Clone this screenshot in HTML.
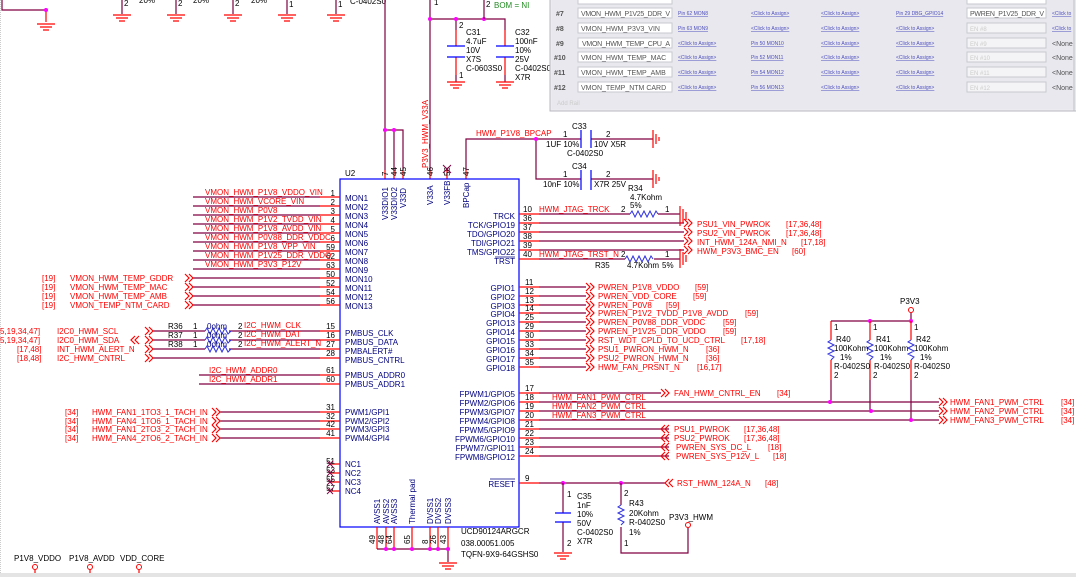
<!DOCTYPE html>
<html><head><meta charset="utf-8"><style>
html,body{margin:0;padding:0;background:#fff;}
svg{display:block;font-family:"Liberation Sans",Arial,sans-serif;}
.w{stroke:#800040;stroke-width:1.2;fill:none}
.p{stroke:#ff0000;stroke-width:1.2;fill:none}
.b{stroke:#0000ff;stroke-width:1.2;fill:none}
.z{stroke:#3030e0;stroke-width:1;fill:none}
.g{stroke:#ff0000;stroke-width:1.2;fill:none}
.l{fill:#ff0000;font-size:8px}
.n{fill:#000080;font-size:8px}
.k{fill:#000;font-size:8px}
.lk{fill:#5050c0;font-size:5px;text-decoration:underline}
.tb{fill:#555;font-size:7px}
</style></head><body>
<svg width="1076" height="577" viewBox="0 0 1076 577" xmlns="http://www.w3.org/2000/svg">
<defs>
<g id="gnd"><path d="M-9,0H9M-6,3H6M-3,6H3" class="g"/></g>
<g id="chr"><path d="M0,-4L4,0L0,4M4,-4L8,0L4,4" class="p" stroke-width="0.9"/></g>
<g id="chl"><path d="M8,-4L4,0L8,4M4,-4L0,0L4,4" class="p" stroke-width="0.9"/></g>
</defs>
<line x1="0.5" y1="0" x2="0.5" y2="577" stroke="#ccc" stroke-dasharray="1,1"/>
<path d="M2,0V10H46" class="w"/><path d="M46,10V22" class="p"/><circle cx="46" cy="10" r="2" fill="#f0f"/>
<use href="#gnd" x="46" y="24"/>
<g>
<path d="M122,0V14M176,0V14M233,0V14M287,0V14M336,0V14" class="w"/>
<use href="#gnd" x="122" y="15"/><use href="#gnd" x="176" y="15"/><use href="#gnd" x="233" y="15"/><use href="#gnd" x="287" y="15"/><use href="#gnd" x="336" y="15"/>
<text class="k" x="124" y="6">2</text><text class="k" x="178" y="6">2</text><text class="k" x="235" y="6">2</text><text class="k" x="289" y="7">1</text><text class="k" x="338" y="7">1</text>
<text class="k" x="139" y="3">20%</text><text class="k" x="193" y="3">20%</text><text class="k" x="251" y="3">20%</text>
<text class="k" x="350" y="4">C-0402S0</text>
</g>
<path d="M385,0V170M385,130H403V170M394,130V170" class="w"/>
<circle cx="385" cy="130" r="2" fill="#f0f"/><circle cx="394" cy="130" r="2" fill="#f0f"/>
<path d="M385,170V179M394,170V179M403,170V179M430,170V179M447,170V179M466,170V179" class="p"/>
<path d="M430,0V170" class="w"/><path d="M430,19H505V30M456,19V30" class="w"/>
<circle cx="430" cy="19" r="2" fill="#f0f"/><circle cx="456" cy="19" r="2" fill="#f0f"/><circle cx="484" cy="19" r="2" fill="#f0f"/>
<path d="M484,0V19" class="w"/>
<text class="k" x="434" y="5">1</text><text class="k" x="486" y="7">2</text><text x="494" y="8" style="fill:#228b22;font-size:8px">BOM = NI</text>
<path d="M456,30V46M456,57V75" class="p"/><path d="M447,46H465M447,57H465" class="b" stroke-width="1.5"/>
<path d="M456,75V82" class="w"/><use href="#gnd" x="456" y="82"/>
<text class="k" x="459" y="28">2</text><text class="k" x="459" y="78">1</text>
<text class="k" x="466" y="35">C31</text><text class="k" x="466" y="44">4.7uF</text><text class="k" x="466" y="53">10V</text><text class="k" x="466" y="62">X7S</text><text class="k" x="466" y="71">C-0603S0</text>
<path d="M505,30V46M505,57V75" class="p"/><path d="M496,46H514M496,57H514" class="b" stroke-width="1.5"/>
<path d="M505,75V82" class="w"/><use href="#gnd" x="505" y="82"/>
<text class="k" x="515" y="35">C32</text><text class="k" x="515" y="44">100nF</text><text class="k" x="515" y="53">10%</text><text class="k" x="515" y="62">25V</text><text class="k" x="515" y="71">C-0402S0</text><text class="k" x="515" y="80">X7R</text>
<text class="l" transform="translate(428,168) rotate(-90)">P3V3_HWM_V33A</text>
<g class="k">
<text transform="translate(388,176) rotate(-90)">7</text><text transform="translate(397,176) rotate(-90)">44</text><text transform="translate(406,176) rotate(-90)">45</text>
<text transform="translate(433,176) rotate(-90)">46</text><text transform="translate(450,176) rotate(-90)">58</text><text transform="translate(469,176) rotate(-90)">47</text>
</g>
<path d="M443,165L451,173M451,165L443,173" stroke="#800040" stroke-width="1"/>
<path d="M466,170V139H536V179H581M536,139H581M591,139H653M591,179H653" class="w"/>
<circle cx="536" cy="139" r="2" fill="#f0f"/>
<text class="l" x="476" y="136">HWM_P1V8_BPCAP</text>
<path d="M581,130V148M591,130V148M581,170V190M591,170V190" class="b" stroke-width="1.5"/>
<path d="M653,130V148M656,134V144M659,137V141M653,170V188M656,174V184M659,177V181" class="g"/>
<text class="k" x="572" y="129">C33</text><text class="k" x="563" y="137">1</text><text class="k" x="606" y="137">2</text>
<text class="k" x="546" y="147">1UF  10%</text><text class="k" x="594" y="147">10V  X5R</text><text class="k" x="567" y="156">C-0402S0</text>
<text class="k" x="572" y="169">C34</text><text class="k" x="563" y="177">1</text><text class="k" x="606" y="177">2</text>
<text class="k" x="543" y="187">10nF  10%</text><text class="k" x="594" y="187">X7R  25V</text><text class="k" x="628" y="191">R34</text>
<rect x="340" y="179" width="179" height="348" class="b"/>
<text class="k" x="345" y="176">U2</text>
<g class="n">
<text transform="translate(388,220) rotate(-90)">V33DIO1</text><text transform="translate(397,220) rotate(-90)">V33DIO2</text><text transform="translate(406,208) rotate(-90)">V33D</text>
<text transform="translate(433,205) rotate(-90)">V33A</text><text transform="translate(450,205) rotate(-90)">V33FB</text><text transform="translate(469,208) rotate(-90)">BPCap</text>
</g>
<g>
<path d="M193,197H320M193,206H320M193,215H320M193,224H320M193,233H320M193,242H320M193,251H320M193,260H320M193,269H320M193,278H320M193,287H320M193,296H320M193,305H320" class="w"/>
<path d="M320,197H340M320,206H340M320,215H340M320,224H340M320,233H340M320,242H340M320,251H340M320,260H340M320,269H340M320,278H340M320,287H340M320,296H340M320,305H340" class="p"/>
<g class="k" text-anchor="end">
<text x="335" y="196">1</text><text x="335" y="205">2</text><text x="335" y="214">3</text><text x="335" y="223">4</text><text x="335" y="232">5</text><text x="335" y="241">6</text><text x="335" y="250">59</text><text x="335" y="259">62</text><text x="335" y="268">63</text><text x="335" y="277">50</text><text x="335" y="286">52</text><text x="335" y="295">54</text><text x="335" y="304">56</text>
</g>
<g class="n">
<text x="345" y="201">MON1</text><text x="345" y="210">MON2</text><text x="345" y="219">MON3</text><text x="345" y="228">MON4</text><text x="345" y="237">MON5</text><text x="345" y="246">MON6</text><text x="345" y="255">MON7</text><text x="345" y="264">MON8</text><text x="345" y="273">MON9</text><text x="345" y="282">MON10</text><text x="345" y="291">MON11</text><text x="345" y="300">MON12</text><text x="345" y="309">MON13</text>
</g>
<g class="l">
<text x="205" y="195">VMON_HWM_P1V8_VDDO_VIN</text><text x="205" y="204">VMON_HWM_VCORE_VIN</text><text x="205" y="213">VMON_HWM_P0V8</text><text x="205" y="222">VMON_HWM_P1V2_TVDD_VIN</text><text x="205" y="231">VMON_HWM_P1V8_AVDD_VIN</text><text x="205" y="240">VMON_HWM_P0V88_DDR_VDDC</text><text x="205" y="249">VMON_HWM_P1V8_VPP_VIN</text><text x="205" y="258">VMON_HWM_P1V25_DDR_VDDO</text><text x="205" y="267">VMON_HWM_P3V3_P12V</text>
<text x="42" y="281">[19]</text><text x="70" y="281">VMON_HWM_TEMP_GDDR</text>
<text x="42" y="290">[19]</text><text x="70" y="290">VMON_HWM_TEMP_MAC</text>
<text x="42" y="299">[19]</text><text x="70" y="299">VMON_HWM_TEMP_AMB</text>
<text x="42" y="308">[19]</text><text x="70" y="308">VMON_TEMP_NTM_CARD</text>
</g>
<use href="#chr" x="185" y="278"/><use href="#chr" x="185" y="287"/><use href="#chr" x="185" y="296"/><use href="#chr" x="185" y="305"/>
</g>
<path d="M153,331H205M229,331H320M153,340H205M229,340H320M153,349H205M229,349H320M153,358H320M199,375H320M199,384H320" class="w"/>
<path d="M320,331H340M320,340H340M320,349H340M320,358H340M320,375H340M320,384H340" class="p"/>
<path d="M205,331l2,-3l3,6l3,-6l3,6l3,-6l3,6l3,-6l3,6l3,-3M205,340l2,-3l3,6l3,-6l3,6l3,-6l3,6l3,-6l3,6l3,-3M205,349l2,-3l3,6l3,-6l3,6l3,-6l3,6l3,-6l3,6l3,-3" class="z"/>
<use href="#chr" x="145" y="331"/><use href="#chr" x="145" y="340"/><use href="#chr" x="145" y="349"/><use href="#chr" x="145" y="358"/><use href="#chl" x="131" y="340"/>
<g class="k" text-anchor="end"><text x="335" y="329">15</text><text x="335" y="338">16</text><text x="335" y="347">27</text><text x="335" y="356">28</text><text x="335" y="373">61</text><text x="335" y="382">60</text></g>
<g class="k"><text x="168" y="329">R36</text><text x="193" y="329">1</text><text x="238" y="329">2</text><text x="168" y="338">R37</text><text x="193" y="338">1</text><text x="238" y="338">2</text><text x="168" y="347">R38</text><text x="193" y="347">1</text><text x="238" y="347">2</text>
<text x="207" y="329" style="fill:#000080">0ohm</text><text x="207" y="338" style="fill:#000080">0ohm</text><text x="207" y="347" style="fill:#000080">0ohm</text></g>
<g class="n"><text x="345" y="336">PMBUS_CLK</text><text x="345" y="345">PMBUS_DATA</text><text x="345" y="354">PMBALERT#</text><text x="345" y="363">PMBUS_CNTRL</text><text x="345" y="378">PMBUS_ADDR0</text><text x="345" y="387">PMBUS_ADDR1</text></g>
<g class="l">
<text x="244" y="328">I2C_HWM_CLK</text><text x="244" y="337">I2C_HWM_DAT</text><text x="244" y="346">I2C_HWM_ALERT_N</text>
<text x="0" y="334">5,19,34,47]</text><text x="57" y="334">I2C0_HWM_SCL</text>
<text x="0" y="343">5,19,34,47]</text><text x="57" y="343">I2C0_HWM_SDA</text>
<text x="17" y="352">[17,48]</text><text x="57" y="352">INT_HWM_ALERT_N</text>
<text x="17" y="361">[18,48]</text><text x="57" y="361">I2C_HWM_CNTRL</text>
<text x="209" y="373">I2C_HWM_ADDR0</text><text x="209" y="382">I2C_HWM_ADDR1</text>
</g>
<path d="M220,412H320M220,421H320M220,429H320M220,438H320" class="w"/>
<path d="M320,412H340M320,421H340M320,429H340M320,438H340M330,464H340M330,473H340M330,482H340M330,491H340" class="p"/>
<use href="#chr" x="212" y="412"/><use href="#chr" x="212" y="421"/><use href="#chr" x="212" y="429"/><use href="#chr" x="212" y="438"/>
<g class="k" text-anchor="end"><text x="335" y="410">31</text><text x="335" y="419">32</text><text x="335" y="427">42</text><text x="335" y="436">41</text><text x="335" y="464">51</text><text x="335" y="473">53</text><text x="335" y="482">55</text><text x="335" y="491">57</text></g>
<path d="M327,461l6,6M333,461l-6,6M327,470l6,6M333,470l-6,6M327,479l6,6M333,479l-6,6M327,488l6,6M333,488l-6,6" stroke="#800040" stroke-width="0.9"/>
<g class="n"><text x="345" y="415">PWM1/GPI1</text><text x="345" y="424">PWM2/GPI2</text><text x="345" y="432">PWM3/GPI3</text><text x="345" y="441">PWM4/GPI4</text>
<text x="345" y="467">NC1</text><text x="345" y="476">NC2</text><text x="345" y="485">NC3</text><text x="345" y="494">NC4</text></g>
<g class="l"><text x="65" y="415">[34]</text><text x="92" y="415">HWM_FAN1_1TO3_1_TACH_IN</text><text x="65" y="424">[34]</text><text x="92" y="424">HWM_FAN4_1TO6_1_TACH_IN</text><text x="65" y="432">[34]</text><text x="92" y="432">HWM_FAN1_2TO3_2_TACH_IN</text><text x="65" y="441">[34]</text><text x="92" y="441">HWM_FAN4_2TO6_2_TACH_IN</text></g>
<path d="M377,527V549M386,527V549M394,527V549M412,527V549M430,527V549M438,527V549M448,527V549" class="p"/>
<path d="M377,549H448V562" class="w"/><use href="#gnd" x="448" y="563"/>
<circle cx="386" cy="549" r="2" fill="#f0f"/><circle cx="394" cy="549" r="2" fill="#f0f"/><circle cx="412" cy="549" r="2" fill="#f0f"/><circle cx="430" cy="549" r="2" fill="#f0f"/><circle cx="438" cy="549" r="2" fill="#f0f"/><circle cx="448" cy="549" r="2" fill="#f0f"/>
<g class="k"><text transform="translate(375,544) rotate(-90)">49</text><text transform="translate(384,544) rotate(-90)">48</text><text transform="translate(392,544) rotate(-90)">64</text><text transform="translate(410,544) rotate(-90)">65</text><text transform="translate(428,544) rotate(-90)">8</text><text transform="translate(436,544) rotate(-90)">26</text><text transform="translate(446,544) rotate(-90)">43</text></g>
<g class="n"><text transform="translate(380,524) rotate(-90)">AVSS1</text><text transform="translate(389,524) rotate(-90)">AVSS2</text><text transform="translate(397,524) rotate(-90)">AVSS3</text><text transform="translate(415,524) rotate(-90)">Thermal pad</text><text transform="translate(433,524) rotate(-90)">DVSS1</text><text transform="translate(441,524) rotate(-90)">DVSS2</text><text transform="translate(451,524) rotate(-90)">DVSS3</text></g>
<g class="k"><text x="461" y="534">UCD90124ARGCR</text><text x="461" y="546">038.00051.005</text><text x="461" y="557">TQFN-9X9-64GSHS0</text></g>
<path d="M519,214H539M519,223H539M519,232H539M519,241H539M519,250H539M519,259H539" class="p"/>
<path d="M539,214H630M658,214H680M539,223H684M539,232H684M539,241H684M539,250H684M539,259H625M654,259H680" class="w"/>
<path d="M630,214l2,-3l3,6l3,-6l3,6l3,-6l3,6l3,-6l3,6l3,-6l2,3M625,259l2,-3l3,6l3,-6l3,6l3,-6l3,6l3,-6l3,6l3,-6l2,3" class="z"/>
<path d="M680,206V226M683,209V223M686,212V220M680,249V268M683,252V265M686,255V262" class="g"/>
<use href="#chr" x="684" y="223"/><use href="#chr" x="684" y="232"/><use href="#chr" x="684" y="241"/><use href="#chr" x="684" y="250"/>
<g class="k"><text x="523" y="212">10</text><text x="523" y="221">36</text><text x="523" y="230">37</text><text x="523" y="239">38</text><text x="523" y="248">39</text><text x="523" y="257">40</text>
<text x="621" y="212">2</text><text x="665" y="212">1</text><text x="630" y="200">4.7Kohm</text><text x="630" y="208">5%</text>
<text x="621" y="257">2</text><text x="665" y="257">1</text><text x="595" y="268">R35</text><text x="627" y="268">4.7Kohm</text><text x="662" y="268">5%</text></g>
<g class="n" text-anchor="end"><text x="515" y="219">TRCK</text><text x="515" y="228">TCK/GPIO19</text><text x="515" y="237">TDO/GPIO20</text><text x="515" y="246">TDI/GPIO21</text><text x="515" y="255">TMS/GPIO22</text><text x="515" y="264">TRST</text></g>
<path d="M495,257H515" stroke="#000080" stroke-width="0.8"/>
<g class="l"><text x="539" y="212">HWM_JTAG_TRCK</text><text x="539" y="257">HWM_JTAG_TRST_N</text>
<text x="697" y="227">PSU1_VIN_PWROK</text><text x="786" y="227">[17,36,48]</text>
<text x="697" y="236">PSU2_VIN_PWROK</text><text x="786" y="236">[17,36,48]</text>
<text x="697" y="245">INT_HWM_124A_NMI_N</text><text x="801" y="245">[17,18]</text>
<text x="697" y="254">HWM_P3V3_BMC_EN</text><text x="792" y="254">[60]</text></g>
<path d="M519,287H539M519,296H539M519,305H539M519,313H539M519,322H539M519,331H539M519,340H539M519,349H539M519,358H539M519,367H539" class="p"/>
<path d="M539,287H586M539,296H586M539,305H586M539,313H586M539,322H586M539,331H586M539,340H586M539,349H586M539,358H586M539,367H586" class="w"/>
<use href="#chr" x="586" y="287"/><use href="#chr" x="586" y="296"/><use href="#chr" x="586" y="305"/><use href="#chr" x="586" y="313"/><use href="#chr" x="586" y="322"/><use href="#chr" x="586" y="331"/><use href="#chr" x="586" y="340"/><use href="#chr" x="586" y="349"/><use href="#chr" x="586" y="358"/><use href="#chr" x="586" y="367"/>
<g class="k"><text x="525" y="285">11</text><text x="525" y="294">12</text><text x="525" y="303">13</text><text x="525" y="311">14</text><text x="525" y="320">25</text><text x="525" y="329">29</text><text x="525" y="338">30</text><text x="525" y="347">33</text><text x="525" y="356">34</text><text x="525" y="365">35</text></g>
<g class="n" text-anchor="end"><text x="515" y="291">GPIO1</text><text x="515" y="300">GPIO2</text><text x="515" y="309">GPIO3</text><text x="515" y="317">GPIO4</text><text x="515" y="326">GPIO13</text><text x="515" y="335">GPIO14</text><text x="515" y="344">GPIO15</text><text x="515" y="353">GPIO16</text><text x="515" y="362">GPIO17</text><text x="515" y="371">GPIO18</text></g>
<g class="l">
<text x="598" y="290">PWREN_P1V8_VDDO</text><text x="695" y="290">[59]</text>
<text x="598" y="299">PWREN_VDD_CORE</text><text x="693" y="299">[59]</text>
<text x="598" y="308">PWREN_P0V8</text><text x="666" y="308">[59]</text>
<text x="598" y="316">PWREN_P1V2_TVDD_P1V8_AVDD</text><text x="745" y="316">[59]</text>
<text x="598" y="325">PWREN_P0V88_DDR_VDDC</text><text x="723" y="325">[59]</text>
<text x="598" y="334">PWREN_P1V25_DDR_VDDO</text><text x="723" y="334">[59]</text>
<text x="598" y="343">RST_WDT_CPLD_TO_UCD_CTRL</text><text x="741" y="343">[17,18]</text>
<text x="598" y="352">PSU1_PWRON_HWM_N</text><text x="706" y="352">[36]</text>
<text x="598" y="361">PSU2_PWRON_HWM_N</text><text x="706" y="361">[36]</text>
<text x="598" y="370">HWM_FAN_PRSNT_N</text><text x="697" y="370">[16,17]</text>
</g>
<circle cx="911" cy="310" r="2.5" fill="none" stroke="#ff0000"/><text class="k" x="900" y="304">P3V3</text>
<path d="M911,313V321M831,321H911" class="w"/><circle cx="870" cy="321" r="2" fill="#f0f"/><circle cx="911" cy="321" r="2" fill="#f0f"/>
<path d="M831,321V340M870,321V340M911,321V340M831,360V380M870,360V380M911,360V380" class="p"/>
<path d="M831,380V402M870,380V411M911,380V420" class="w"/>
<path d="M831,340l-3,2l6,3l-6,3l6,3l-6,3l6,3l-3,3M870,340l-3,2l6,3l-6,3l6,3l-6,3l6,3l-3,3M911,340l-3,2l6,3l-6,3l6,3l-6,3l6,3l-3,3" class="z"/>
<g class="k"><text x="834" y="330">1</text><text x="873" y="330">1</text><text x="914" y="330">1</text><text x="834" y="378">2</text><text x="873" y="378">2</text><text x="914" y="378">2</text>
<text x="836" y="342">R40</text><text x="834" y="351">100Kohm</text><text x="840" y="360">1%</text><text x="834" y="369">R-0402S0</text>
<text x="876" y="342">R41</text><text x="874" y="351">100Kohm</text><text x="880" y="360">1%</text><text x="874" y="369">R-0402S0</text>
<text x="916" y="342">R42</text><text x="914" y="351">100Kohm</text><text x="920" y="360">1%</text><text x="914" y="369">R-0402S0</text></g>
<path d="M519,393H539M519,402H539M519,411H539M519,420H539M519,429H539M519,438H539M519,447H539M519,456H539M519,483H539" class="p"/>
<path d="M539,393H661M539,402H939M539,411H939M539,420H939M539,429H669M539,438H669M539,447H669M539,456H669M539,483H665" class="w"/>
<circle cx="830" cy="402" r="2" fill="#f0f"/><circle cx="871" cy="411" r="2" fill="#f0f"/><circle cx="911" cy="420" r="2" fill="#f0f"/>
<use href="#chr" x="661" y="393"/><use href="#chr" x="939" y="402"/><use href="#chr" x="939" y="411"/><use href="#chr" x="939" y="420"/>
<use href="#chl" x="661" y="429"/><use href="#chl" x="661" y="438"/><use href="#chl" x="661" y="447"/><use href="#chl" x="661" y="456"/><use href="#chl" x="665" y="483"/>
<g class="k"><text x="525" y="391">17</text><text x="525" y="400">18</text><text x="525" y="409">19</text><text x="525" y="418">20</text><text x="525" y="427">21</text><text x="525" y="436">22</text><text x="525" y="445">23</text><text x="525" y="454">24</text><text x="525" y="481">9</text></g>
<g class="n" text-anchor="end"><text x="515" y="397">FPWM1/GPIO5</text><text x="515" y="406">FPWM2/GPIO6</text><text x="515" y="415">FPWM3/GPIO7</text><text x="515" y="424">FPWM4/GPIO8</text><text x="515" y="433">FPWM5/GPIO9</text><text x="515" y="442">FPWM6/GPIO10</text><text x="515" y="451">FPWM7/GPIO11</text><text x="515" y="460">FPWM8/GPIO12</text><text x="515" y="487">RESET</text></g>
<path d="M490,479H515" stroke="#000080" stroke-width="0.8"/>
<g class="l">
<text x="552" y="400">HWM_FAN1_PWM_CTRL</text><text x="552" y="409">HWM_FAN2_PWM_CTRL</text><text x="552" y="418">HWM_FAN3_PWM_CTRL</text>
<text x="674" y="396">FAN_HWM_CNTRL_EN</text><text x="777" y="396">[34]</text>
<text x="950" y="405">HWM_FAN1_PWM_CTRL</text><text x="1061" y="405">[34]</text>
<text x="950" y="414">HWM_FAN2_PWM_CTRL</text><text x="1061" y="414">[34]</text>
<text x="950" y="423">HWM_FAN3_PWM_CTRL</text><text x="1061" y="423">[34]</text>
<text x="674" y="432">PSU1_PWROK</text><text x="744" y="432">[17,36,48]</text>
<text x="674" y="441">PSU2_PWROK</text><text x="744" y="441">[17,36,48]</text>
<text x="676" y="450">PWREN_SYS_DC_L</text><text x="768" y="450">[18]</text>
<text x="676" y="459">PWREN_SYS_P12V_L</text><text x="773" y="459">[18]</text>
<text x="677" y="486">RST_HWM_124A_N</text><text x="765" y="486">[48]</text>
</g>
<circle cx="563" cy="483" r="2" fill="#f0f"/><circle cx="621" cy="483" r="2" fill="#f0f"/>
<path d="M563,483V513M563,522V552M621,483V505M621,527V553H688V528" class="w"/>
<path d="M555,513H571M555,522H571" class="b" stroke-width="1.5"/>
<path d="M621,505l-3,2l6,3l-6,3l6,3l-6,3l6,3l-3,3" class="z"/>
<use href="#gnd" x="563" y="553"/>
<circle cx="688" cy="525" r="2.5" fill="none" stroke="#ff0000"/>
<g class="k"><text x="567" y="497">1</text><text x="567" y="546">2</text><text x="577" y="499">C35</text><text x="577" y="508">1nF</text><text x="577" y="517">10%</text><text x="577" y="526">50V</text><text x="577" y="535">C-0402S0</text><text x="577" y="544">X7R</text>
<text x="624" y="496">2</text><text x="624" y="546">1</text><text x="629" y="506">R43</text><text x="629" y="516">20Kohm</text><text x="629" y="525">R-0402S0</text><text x="629" y="535">1%</text><text x="669" y="520">P3V3_HWM</text></g>
<g class="k"><text x="14" y="561">P1V8_VDDO</text><text x="69" y="561">P1V8_AVDD</text><text x="120" y="561">VDD_CORE</text></g>
<circle cx="35" cy="567" r="2.5" fill="none" stroke="#ff0000"/><circle cx="90" cy="567" r="2.5" fill="none" stroke="#ff0000"/><circle cx="139" cy="567" r="2.5" fill="none" stroke="#ff0000"/>
<path d="M35,570V577M90,570V577M139,570V577" class="p"/>
<rect x="0" y="573" width="1076" height="4" fill="#e4e4e4"/>
<rect x="550" y="-2" width="530" height="113" fill="#ebebf0" stroke="#b8b8c0"/>
<rect x="552" y="0" width="524" height="109" fill="#e8e8ee"/>
<g class="tb" font-weight="bold"><text x="556" y="16">#7</text><text x="556" y="31">#8</text><text x="556" y="46">#9</text><text x="554" y="60">#10</text><text x="554" y="75">#11</text><text x="554" y="90">#12</text></g>
<g fill="#fff" stroke="#c8c8d0">
<rect x="578" y="-6" width="94" height="10"/><rect x="967" y="-6" width="79" height="10"/>
<rect x="578" y="8" width="94" height="10"/><rect x="578" y="23" width="94" height="10"/><rect x="578" y="38" width="94" height="10"/><rect x="578" y="52" width="94" height="10"/><rect x="578" y="67" width="94" height="10"/><rect x="578" y="82" width="94" height="10"/>
<rect x="967" y="8" width="79" height="10"/><rect x="967" y="23" width="79" height="10" fill="#f4f4f6"/><rect x="967" y="38" width="79" height="10" fill="#f4f4f6"/><rect x="967" y="52" width="79" height="10" fill="#f4f4f6"/><rect x="967" y="67" width="79" height="10" fill="#f4f4f6"/><rect x="967" y="82" width="79" height="10" fill="#f4f4f6"/>
</g>
<g class="tb"><text x="581" y="16" textLength="89">VMON_HWM_P1V25_DDR_V</text><text x="581" y="31">VMON_HWM_P3V3_VIN</text><text x="582" y="46" textLength="88">VMON_HWM_TEMP_CPU_A</text><text x="581" y="60">VMON_HWM_TEMP_MAC</text><text x="581" y="75">VMON_HWM_TEMP_AMB</text><text x="581" y="90">VMON_TEMP_NTM CARD</text>
<text x="970" y="16" textLength="74">PWREN_P1V25_DDR_V</text><text x="1052" y="46">&lt;None</text><text x="1052" y="60">&lt;None</text><text x="1052" y="75">&lt;None</text><text x="1052" y="90">&lt;None</text></g>
<g fill="#ccc" font-size="6px"><text x="970" y="31">EN #8</text><text x="970" y="46">EN #9</text><text x="970" y="60">EN #10</text><text x="970" y="75">EN #11</text><text x="970" y="90">EN #12</text><text x="557" y="105">Add Rail</text></g>
<g class="lk">
<text x="678" y="15">Pin 62 MON8</text><text x="751" y="15">&lt;Click to Assign&gt;</text><text x="821" y="15">&lt;Click to Assign&gt;</text><text x="896" y="15">Pin 29 DBG_GPIO14</text><text x="1052" y="15">&lt;Click to</text>
<text x="678" y="30">Pin 63 MON9</text><text x="751" y="30">&lt;Click to Assign&gt;</text><text x="821" y="30">&lt;Click to Assign&gt;</text><text x="896" y="30">&lt;Click to Assign&gt;</text><text x="1052" y="30">&lt;Click to</text>
<text x="678" y="45">&lt;Click to Assign&gt;</text><text x="751" y="45">Pin 50 MON10</text><text x="821" y="45">&lt;Click to Assign&gt;</text><text x="896" y="45">&lt;Click to Assign&gt;</text>
<text x="678" y="59">&lt;Click to Assign&gt;</text><text x="751" y="59">Pin 52 MON11</text><text x="821" y="59">&lt;Click to Assign&gt;</text><text x="896" y="59">&lt;Click to Assign&gt;</text>
<text x="678" y="74">&lt;Click to Assign&gt;</text><text x="751" y="74">Pin 54 MON12</text><text x="821" y="74">&lt;Click to Assign&gt;</text><text x="896" y="74">&lt;Click to Assign&gt;</text>
<text x="678" y="89">&lt;Click to Assign&gt;</text><text x="751" y="89">Pin 56 MON13</text><text x="821" y="89">&lt;Click to Assign&gt;</text><text x="896" y="89">&lt;Click to Assign&gt;</text>
</g>
<line x1="1074" y1="0" x2="1074" y2="111" stroke="#c0c0c8"/>
</svg>
</body></html>
